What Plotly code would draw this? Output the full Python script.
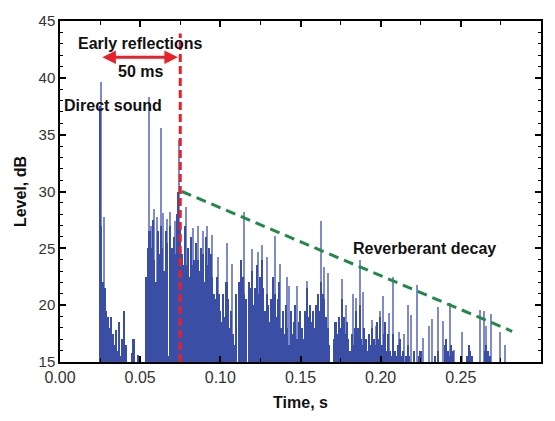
import plotly.graph_objects as go

# ---- data ----
t0_ms = 25          # first sample of the dense level trace, ms
step_ms = 1         # spacing of the dense trace, ms
level_db = [
    37.5, 27.0, 22.0, 21.5, 19.5, 19.0, 18.0, 19.0, 17.5, 16.5,   # 25-34
    17.8, 16.0, 18.5, 15.5, 17.0, 19.5, 16.5, 15.0, 15.0, 15.0,   # 35-44
    15.8, 17.0, 15.0, 15.0, 15.6, 15.5, 15.0, 15.0, 15.0, 22.5,   # 45-54
    25.0, 26.5, 25.0, 27.5, 24.0, 22.0, 26.5, 24.5, 27.0, 25.0,   # 55-64
    23.0, 26.5, 25.5, 15.5, 27.0, 25.0, 26.0, 24.5, 28.0, 30.0,   # 65-74
    27.0, 24.5, 23.5, 27.0, 23.5, 25.0, 22.5, 26.0, 23.5, 24.0,   # 75-84
    25.5, 24.0, 23.0, 25.0, 24.5, 22.0, 26.0, 23.5, 25.0, 24.5,   # 85-94
    22.5, 21.0, 20.5, 22.5, 21.0, 19.5, 18.5, 21.0, 19.0, 22.0,   # 95-104
    20.5, 18.0, 19.5, 17.5, 16.5, 21.0, 15.0, 22.0, 24.0, 22.5,   # 105-114
    21.0, 20.5, 15.0, 22.0, 21.5, 23.0, 20.0, 21.5, 23.5, 21.0,   # 115-124
    22.5, 24.0, 21.5, 19.5, 21.0, 20.0, 18.5, 20.5, 22.5, 21.0,   # 125-134
    19.0, 20.5, 22.0, 18.0, 19.5, 17.5, 20.0, 18.0, 16.5, 19.5,   # 135-144
    17.5, 18.5, 20.0, 17.0, 18.5, 19.5, 18.0, 17.0, 19.5, 21.5,   # 145-154
    19.0, 20.0, 18.5, 19.5, 18.0, 20.0, 21.0, 19.5, 22.0, 21.0,   # 155-164
    20.5, 19.0, 18.0, 16.5, 15.0, 15.0, 17.0, 18.5, 17.5, 19.0,   # 165-174
    18.0, 20.5, 19.0, 17.5, 18.5, 17.0, 16.0, 17.5, 16.5, 18.0,   # 175-184
    19.5, 18.0, 20.0, 17.0, 16.5, 18.0, 17.0, 16.0, 17.5, 16.5,   # 185-194
    18.0, 17.0, 16.5, 18.5, 17.0, 19.0, 16.5, 17.5, 18.5, 16.0,   # 195-204
    17.5, 16.0, 15.5, 17.5, 16.0, 15.5, 16.5, 17.0, 15.5, 16.0,   # 205-214
    15.0, 15.5, 16.5, 15.5, 15.0, 15.0, 16.0, 15.0, 15.0, 15.5,   # 215-224
    16.0, 15.0, 15.0, 15.0, 15.0, 15.0, 15.0, 15.0, 15.0, 15.5,   # 225-234
    15.0, 16.0, 15.0, 15.0, 15.0, 16.5, 17.0, 16.0, 15.5, 16.5,   # 235-244
    16.0, 15.0, 15.0, 15.0, 15.0, 15.0, 15.0, 15.0, 15.0, 15.5,   # 245-254
    16.5, 16.0, 15.5, 15.0, 15.0, 15.0, 15.0, 15.0, 15.0, 15.0,   # 255-264
    16.0, 16.5, 16.0, 15.5, 15.0, 15.0, 15.0, 15.0, 15.0, 15.0,   # 265-274
    15.0, 15.0, 15.0, 15.0, 15.0, 15.0,                           # 275-280
]

spike_ms = [25.6, 27.2, 55.5, 57.0, 58.6, 60.5, 63.0, 64.0, 66.7, 68.8,
            71.5, 74.3, 78.6, 83.0, 86.0, 89.0, 91.6, 94.8, 98.5, 104.0,
            107.0, 114.6, 119.7, 123.4, 126.0, 129.0, 134.0, 137.0, 141.5, 143.0,
            148.0, 154.0, 163.0, 165.0, 167.0, 176.0, 178.5, 182.5, 184.5, 187.0,
            189.0, 194.5, 197.0, 199.5, 201.5, 205.0, 208.0, 211.5, 214.5, 217.0,
            219.0, 223.0, 226.5, 230.0, 232.0, 236.0, 239.0, 243.0, 245.5, 251.0,
            262.0, 264.5, 266.0, 269.0, 274.5, 277.5]
spike_db = [39.6, 27.8, 38.3, 27.0, 28.5, 27.8, 35.6, 28.1, 27.6, 28.2,
            27.4, 34.5, 28.6, 26.8, 27.0, 26.5, 27.0, 26.2, 24.2, 25.5,
            23.6, 28.2, 24.9, 24.7, 25.3, 24.2, 26.1, 23.6, 22.5, 21.7,
            21.7, 22.1, 27.4, 23.4, 22.8, 22.3, 20.0, 21.0, 20.6, 24.0,
            21.2, 18.7, 18.2, 19.5, 20.8, 19.3, 22.5, 17.6, 17.5, 20.0,
            19.1, 21.8, 17.1, 18.2, 18.8, 19.8, 18.6, 20.2, 16.1, 17.6,
            19.6, 19.5, 18.2, 19.2, 17.6, 16.5]

early_limit_s = 0.075           # end of early reflections
arrow_y_db = 41.8
decay_t = [0.076, 0.282]        # reverberant decay guide line
decay_db = [30.0, 17.7]

x_ticks = [0.00, 0.05, 0.10, 0.15, 0.20, 0.25, 0.30]
y_ticks = [15, 20, 25, 30, 35, 40, 45]

# ---- figure ----
dense_t = [(t0_ms + i * step_ms) / 1000 for i in range(len(level_db))]
spike_t = [v / 1000 for v in spike_ms]

DARK = "#3b4ea6"
LIGHT = "#7f8bcb"

fig = go.Figure()
fig.add_trace(go.Bar(x=spike_t, y=spike_db, width=0.0007, marker_color=LIGHT,
                     marker_line_width=0, showlegend=False))
fig.add_trace(go.Bar(x=dense_t, y=level_db, width=step_ms / 1000, marker_color=DARK,
                     marker_line_width=0, showlegend=False))

fig.add_shape(type="line", x0=early_limit_s, x1=early_limit_s, y0=15, y1=43.9,
              line=dict(color="#e8202a", width=3, dash="8px,4px"))
fig.add_shape(type="line", x0=decay_t[0], x1=decay_t[1], y0=decay_db[0], y1=decay_db[1],
              line=dict(color="#23884a", width=3, dash="10px,6px"))

bold = dict(family="Liberation Sans, Arial, sans-serif", size=16, color="#111")
fig.add_annotation(x=0.0735, y=arrow_y_db, ax=0.0255, ay=arrow_y_db, axref="x", ayref="y",
                   xref="x", yref="y", text="", showarrow=True, arrowside="end+start",
                   arrowhead=2, startarrowhead=2, arrowsize=0.9, startarrowsize=0.9,
                   arrowwidth=3, arrowcolor="#e8202a")
fig.add_annotation(x=0.0499, y=43.0, text="<b>Early reflections</b>", showarrow=False, font=bold)
fig.add_annotation(x=0.0505, y=40.6, text="<b>50 ms</b>", showarrow=False, font=bold)
fig.add_annotation(x=0.033, y=37.6, text="<b>Direct sound</b>", showarrow=False, font=bold)
fig.add_annotation(x=0.2275, y=25.0, text="<b>Reverberant decay</b>", showarrow=False, font=bold)

xtickfont = dict(family="Liberation Sans, Arial, sans-serif", size=16, color="#333")
ytickfont = dict(family="Liberation Sans, Arial, sans-serif", size=15, color="#333")
titlefont = dict(family="Liberation Sans, Arial, sans-serif", size=16, color="#111")

fig.update_layout(
    width=555, height=421,
    margin=dict(l=60, r=14, t=17, b=53),
    paper_bgcolor="white", plot_bgcolor="white",
    barmode="overlay", bargap=0,
    xaxis=dict(range=[0, 0.30], tickvals=x_ticks, ticktext=[f"{v:.2f}" for v in x_ticks],
               ticks="inside", ticklen=6, tickwidth=1.5, tickcolor="black",
               showline=True, linecolor="black", linewidth=1.5, mirror="ticks",
               showgrid=False, zeroline=False, tickfont=xtickfont,
               minor=dict(dtick=0.025, tick0=0, ticks="inside", ticklen=4, tickcolor="black", tickwidth=1.2),
               title=dict(text="<b>Time, s</b>", font=titlefont, standoff=12)),
    yaxis=dict(range=[15, 45], tickvals=y_ticks,
               ticks="inside", ticklen=6, tickwidth=1.5, tickcolor="black",
               showline=True, linecolor="black", linewidth=1.5, mirror="ticks",
               showgrid=False, zeroline=False, tickfont=ytickfont,
               minor=dict(dtick=1, tick0=15, ticks="inside", ticklen=3, tickcolor="black", tickwidth=1.2),
               title=dict(text="<b>Level, dB</b>", font=titlefont, standoff=8)),
)

fig.write_html("out.html")
